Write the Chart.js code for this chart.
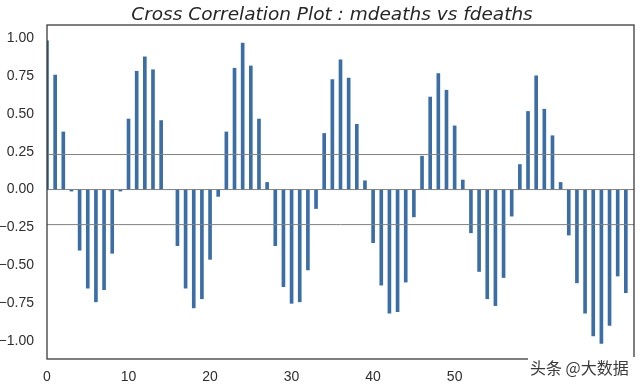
<!DOCTYPE html>
<html>
<head>
<meta charset="utf-8">
<script src="https://cdn.jsdelivr.net/npm/chart.js@4"></script>
<style>
  html, body { margin: 0; padding: 0; background: #fff; }
  #wrap { width: 640px; height: 384px; }
</style>
</head>
<body>
<div id="wrap"><canvas id="chart" width="640" height="384"></canvas></div>
<script>
// cross correlation values, lag 0 .. 71
const ccfValues = [
    0.98, 0.755, 0.38, -0.01, -0.40, -0.65, -0.74, -0.66, -0.42, -0.01,
    0.465, 0.78, 0.875, 0.79, 0.455, 0.0, -0.37, -0.65, -0.78, -0.72,
    -0.46, -0.045, 0.38, 0.80, 0.965, 0.815, 0.465, 0.047, -0.37, -0.64,
    -0.75, -0.74, -0.53, -0.125, 0.37, 0.725, 0.855, 0.735, 0.43, 0.058,
    -0.35, -0.63, -0.815, -0.805, -0.61, -0.18, 0.22, 0.61, 0.765, 0.655,
    0.42, 0.063, -0.285, -0.54, -0.72, -0.765, -0.58, -0.175, 0.165, 0.515,
    0.75, 0.53, 0.355, 0.047, -0.30, -0.615, -0.815, -0.965, -1.015, -0.895,
    -0.57, -0.68
];
const lags = ccfValues.map((v, i) => i);

// reference lines: zero and +/- 1.96/sqrt(n)
const refLevels = [0, 0.231, -0.231];
const xTicks = [0, 10, 20, 30, 40, 50, 60, 70];
const yTicks = [-1.0, -0.75, -0.5, -0.25, 0, 0.25, 0.5, 0.75, 1.0];
const xRange = [0, 72];
const yRange = [-1.117, 1.085];

const titleText = "Cross Correlation Plot : mdeaths vs fdeaths";
const watermark = "头条 @大数据";

const frameAndMark = {
    id: "frameAndMark",
    afterDraw(chart) {
        const ctx = chart.ctx;
        const a = chart.chartArea;
        ctx.save();
        ctx.strokeStyle = "#333333";
        ctx.lineWidth = 1.25;
        ctx.strokeRect(a.left, a.top, a.right - a.left, a.bottom - a.top);
        // title
        ctx.fillStyle = "#262626";
        ctx.font = "italic 18.5px 'DejaVu Sans'";
        ctx.textAlign = "center";
        ctx.textBaseline = "alphabetic";
        ctx.fillText(titleText, 332, 20);
        // watermark box
        ctx.fillStyle = "#ffffff";
        ctx.fillRect(528, 357, 112, 27);
        ctx.font = "16px 'Noto Sans CJK SC'";
        ctx.textBaseline = "middle";
        ctx.textAlign = "left";
        ctx.lineWidth = 3;
        ctx.strokeStyle = "#ffffff";
        ctx.strokeText(watermark, 530, 368);
        ctx.fillStyle = "#3a3a3a";
        ctx.fillText(watermark, 530, 368);
        ctx.restore();
    }
};

const datasets = [{
    type: "bar",
    data: lags.map((l, i) => ({ x: l, y: ccfValues[i] })),
    backgroundColor: "#3b6ea5",
    borderWidth: 0,
    barThickness: 3,
    order: 2
}];
refLevels.forEach(lv => {
    datasets.push({
        type: "line",
        data: [{ x: xRange[0], y: lv }, { x: xRange[1], y: lv }],
        borderColor: "#808080",
        borderWidth: 1,
        pointRadius: 0,
        order: 1
    });
});

new Chart(document.getElementById("chart"), {
    type: "bar",
    data: { datasets: datasets },
    options: {
        responsive: false,
        animation: false,
        layout: { padding: { top: 25, right: 6, left: 0, bottom: 0 } },
        plugins: {
            legend: { display: false },
            tooltip: { enabled: false },
            title: { display: false }
        },
        scales: {
            x: {
                type: "linear",
                offset: false,
                min: xRange[0],
                max: xRange[1],
                grid: { display: false, offset: false },
                border: { display: false },
                afterBuildTicks: s => { s.ticks = xTicks.map(v => ({ value: v })); },
                afterFit: s => { s.height = 25; },
                ticks: {
                    color: "#2e2e2e",
                    padding: 2,
                    maxRotation: 0,
                    font: { family: "Liberation Sans", size: 14 },
                    callback: v => String(v)
                }
            },
            y: {
                min: yRange[0],
                max: yRange[1],
                grid: { display: false },
                border: { display: false },
                afterBuildTicks: s => { s.ticks = yTicks.map(v => ({ value: v })); },
                afterFit: s => { s.width = 47; },
                ticks: {
                    color: "#2e2e2e",
                    padding: 5,
                    font: { family: "Liberation Sans", size: 14 },
                    callback: v => v.toFixed(2).replace("-", "\u2212")
                }
            }
        }
    },
    plugins: [frameAndMark]
});
</script>
</body>
</html>
